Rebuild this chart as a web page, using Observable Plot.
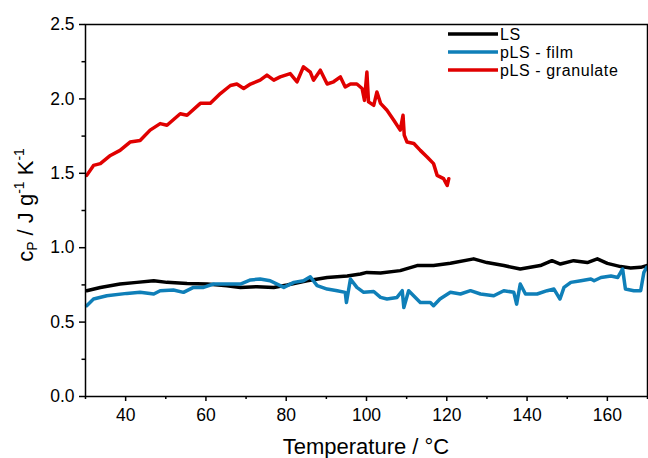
<!DOCTYPE html>
<html>
<head>
<meta charset="utf-8">
<script src="https://cdn.jsdelivr.net/npm/d3@7"></script>
<script src="https://cdn.jsdelivr.net/npm/@observablehq/plot@0.6"></script>
<style>
  html, body { margin: 0; padding: 0; background: #fff; }
  #chart { width: 648px; height: 458px; }
</style>
</head>
<body>
<div id="chart"></div>
<script>
// ---- Data ----
const seriesNames = ["LS", "pLS - film", "pLS - granulate"];
const seriesColors = ["#000000", "#0f7fb8", "#e00000"];

const lsT  = [30.3,33.7,38.6,42.8,47,50.3,55.3,60.3,65.2,68.6,72.7,76.9,80.2,85.2,90.2,95.2,98.5,100.1,103.5,108.4,112.6,116.7,120.9,126.7,130,134.2,138.3,140.8,143.3,146.2,148.3,151.6,155,157.5,160,163.3,165.8,168.3,169.8];
const lsCp = [0.711,0.733,0.756,0.767,0.778,0.767,0.76,0.756,0.745,0.733,0.738,0.733,0.749,0.778,0.80,0.81,0.823,0.834,0.83,0.846,0.88,0.88,0.895,0.925,0.90,0.88,0.857,0.868,0.88,0.913,0.89,0.913,0.90,0.925,0.895,0.873,0.864,0.868,0.88];

const filmT  = [30.3,32,35.3,40.3,43.6,47,48.6,51.9,54.4,56.9,59.4,61.9,65.2,68.6,71.1,73.5,76,78.5,79.4,81.9,84.3,86,87.7,90.2,92.7,94.7,95,96,97.6,99.3,101.8,103.5,105.1,107.6,108.9,109.3,110.5,113.4,115.9,116.7,118.3,120.9,123.4,125.9,128.4,131.7,134.2,136.7,137.4,138.3,139.6,142.5,145,146.7,148.2,149.2,150.9,153.4,155.9,156.7,158.4,160.9,162.6,163.8,164.5,166.6,168.3,169.1,169.8];
const filmCp = [0.61,0.655,0.677,0.693,0.70,0.689,0.711,0.716,0.70,0.733,0.733,0.756,0.756,0.756,0.783,0.79,0.778,0.745,0.733,0.767,0.778,0.805,0.745,0.722,0.711,0.70,0.632,0.79,0.733,0.70,0.706,0.666,0.655,0.666,0.711,0.598,0.711,0.632,0.632,0.61,0.655,0.70,0.689,0.711,0.689,0.677,0.711,0.70,0.621,0.756,0.689,0.689,0.711,0.722,0.655,0.733,0.767,0.778,0.79,0.778,0.80,0.81,0.80,0.857,0.722,0.711,0.711,0.834,0.868];

const granT  = [30.3,32,33.7,36.2,38.6,41.1,43.6,46.1,48.6,50.3,53.6,55.3,58.6,61.1,63.6,66.1,67.7,69.4,71.1,73.5,75.2,76.9,78.5,81,82.7,84.3,86,86.8,88.5,90.2,91.8,93.5,94.7,96,97.6,98.9,99.5,100.1,100.5,101.8,102.6,103.5,105.1,106.8,108.4,109.1,109.4,110.1,111.8,113.4,115.1,116.7,117.6,119.2,120.1,120.5];
const granCp = [1.486,1.553,1.565,1.62,1.654,1.71,1.72,1.79,1.834,1.823,1.90,1.89,1.97,1.97,2.036,2.09,2.10,2.07,2.10,2.126,2.16,2.126,2.148,2.17,2.115,2.216,2.18,2.126,2.193,2.10,2.115,2.148,2.08,2.10,2.10,2.07,1.99,2.18,1.98,1.957,2.047,1.97,1.924,1.857,1.79,1.89,1.757,1.71,1.70,1.654,1.61,1.565,1.486,1.464,1.418,1.464];

const xMajorTicks = [40, 60, 80, 100, 120, 140, 160];
const xMinorTicks = [30, 50, 70, 90, 110, 130, 150, 170];
const yMajorTicks = [0, 0.5, 1.0, 1.5, 2.0, 2.5];
const yMinorTicks = [0.25, 0.75, 1.25, 1.75, 2.25];

// ---- Build table ----
const toRows = (T, C, s) => T.map((t, i) => ({T: t, cp: C[i], series: s}));
const data = [
  ...toRows(lsT, lsCp, seriesNames[0]),
  ...toRows(filmT, filmCp, seriesNames[1]),
  ...toRows(granT, granCp, seriesNames[2])
];

const font = "'Liberation Sans', Arial, Helvetica, sans-serif";

const chart = Plot.plot({
  width: 648,
  height: 458,
  marginLeft: 85,
  marginRight: 1,
  marginTop: 24,
  marginBottom: 62,
  style: {fontFamily: font, fontSize: "17.5px", color: "#000", background: "#fff", overflow: "visible"},
  x: {domain: [30, 170]},
  y: {domain: [0, 2.5]},
  color: {domain: seriesNames, range: seriesColors},
  marks: [
    Plot.line(data, {x: "T", y: "cp", z: "series", stroke: "series", strokeWidth: 3.5, strokeLinejoin: "round", strokeLinecap: "round"}),
    Plot.frame({stroke: "#000", strokeWidth: 1.5}),
    Plot.axisX({ticks: xMajorTicks, tickSize: 5, tickPadding: 7.5, strokeWidth: 1.5, label: null, fontSize: 17.5}),
    Plot.axisX({ticks: xMinorTicks, tickSize: 3, tickFormat: () => "", strokeWidth: 1.5, label: null}),
    Plot.axisY({ticks: yMajorTicks, tickSize: 6, tickPadding: 5, strokeWidth: 1.5, tickFormat: d3.format(".1f"), label: null, fontSize: 17.5}),
    Plot.axisY({ticks: yMinorTicks, tickSize: 3.5, tickFormat: () => "", strokeWidth: 1.5, label: null})
  ]
});

document.getElementById("chart").appendChild(chart);

// ---- Axis titles and legend ----
const svg = d3.select(chart);

svg.append("text")
  .attr("x", 366).attr("y", 454)
  .attr("text-anchor", "middle")
  .attr("font-family", font).attr("font-size", 22).attr("fill", "#000")
  .text("Temperature / °C");

const yt = svg.append("text")
  .attr("transform", "translate(33,205) rotate(-90)")
  .attr("text-anchor", "middle")
  .attr("font-family", font).attr("font-size", 22).attr("fill", "#000");
yt.append("tspan").text("c");
yt.append("tspan").attr("font-size", 14).attr("dy", 4).text("P");
yt.append("tspan").attr("dy", -4).text(" / J g");
yt.append("tspan").attr("font-size", 14).attr("dy", -9).text("-1");
yt.append("tspan").attr("dy", 9).text(" K");
yt.append("tspan").attr("font-size", 14).attr("dy", -9).text("-1");

const legendY = [34, 52, 70];
seriesNames.forEach((name, i) => {
  svg.append("line")
    .attr("x1", 448).attr("x2", 498)
    .attr("y1", legendY[i]).attr("y2", legendY[i])
    .attr("stroke", seriesColors[i]).attr("stroke-width", 3.5);
  svg.append("text")
    .attr("x", 500).attr("y", legendY[i])
    .attr("dy", "0.36em")
    .attr("text-anchor", "start")
    .attr("font-family", font).attr("font-size", 16).attr("fill", "#000")
    .attr("letter-spacing", "0.6px")
    .text(name);
});
</script>
</body>
</html>
